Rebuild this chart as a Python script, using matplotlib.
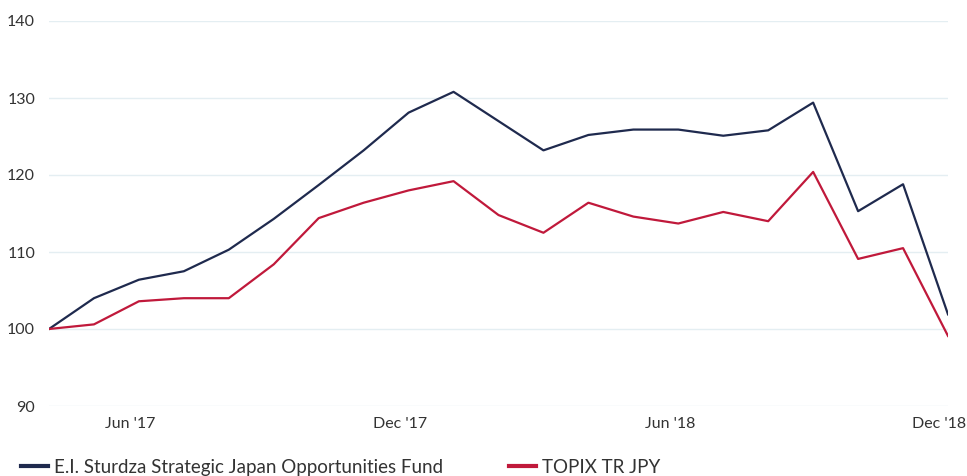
import numpy as np
import matplotlib
matplotlib.use("Agg")
import matplotlib.pyplot as plt
import matplotlib.transforms as mtransforms

# miesiace: Apr 2017 .. Dec 2018
months = ["Apr '17", "May '17", "Jun '17", "Jul '17", "Aug '17", "Sep '17", "Oct '17",
          "Nov '17", "Dec '17", "Jan '18", "Feb '18", "Mar '18", "Apr '18", "May '18",
          "Jun '18", "Jul '18", "Aug '18", "Sep '18", "Oct '18", "Nov '18", "Dec '18"]
fund = [100.0, 104.0, 106.4, 107.5, 110.3, 114.3, 118.7, 123.2, 128.1, 130.8, 127.0,
        123.2, 125.2, 125.9, 125.9, 125.1, 125.8, 129.4, 115.3, 118.8, 101.9]
topix = [100.0, 100.6, 103.6, 104.0, 104.0, 108.4, 114.4, 116.4, 118.0, 119.2, 114.8,
         112.5, 116.4, 114.6, 113.7, 115.2, 114.0, 120.4, 109.1, 110.5, 99.1]
tick_months = ["Jun '17", "Dec '17", "Jun '18", "Dec '18"]
y_ticks = [90, 100, 110, 120, 130, 140]

navy = '#1f2a4e'
red = '#c0193b'
grid_col = '#e4eef2'
txt = '#333333'

plt.rcParams['font.family'] = ['Lato', 'DejaVu Sans']

fig = plt.figure(figsize=(9.67, 4.76), dpi=100)
ax = fig.add_axes([49/967, 1-406/476, (948-49)/967, (406-21)/476])

x = np.arange(len(months))
ax.plot(x, fund, color=navy, lw=1.6, label='E.I. Sturdza Strategic Japan Opportunities Fund')
ax.plot(x, topix, color=red, lw=1.6, label='TOPIX TR JPY')

ax.set_xlim(0, len(months)-1)
ax.set_ylim(90, 140)
ax.set_yticks(y_ticks)
for yv in y_ticks:
    ax.axhline(yv, color=grid_col, lw=1.0, zorder=0)

ax.set_xticks([months.index(m) for m in tick_months])
ax.set_xticklabels(tick_months)
ax.tick_params(axis='both', length=0, colors=txt, labelsize=11.5)
ax.tick_params(axis='x', pad=8)
ax.tick_params(axis='y', pad=10)
off = mtransforms.ScaledTranslation(-8.5/100, 0, fig.dpi_scale_trans)
for lab in ax.get_xticklabels():
    lab.set_transform(lab.get_transform() + off)

for s in ax.spines.values():
    s.set_visible(False)

leg = fig.legend(loc='lower left', bbox_to_anchor=(0.004, -0.035), ncol=2, frameon=False,
                 fontsize=13.5, handlelength=1.45, handletextpad=0.3, columnspacing=3.55)
for t in leg.get_texts():
    t.set_color(txt)
for h in leg.get_lines():
    h.set_linewidth(3)

fig.savefig('out.png', dpi=100)
